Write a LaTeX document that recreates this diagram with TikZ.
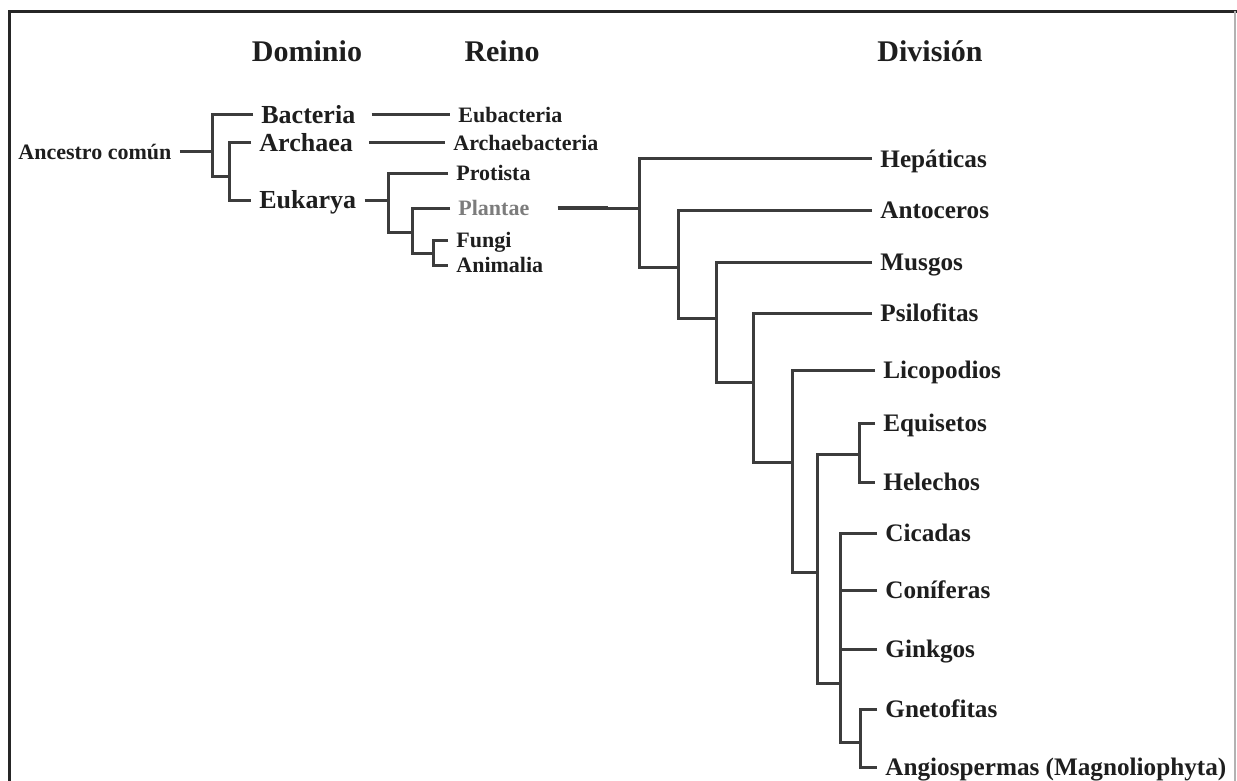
\documentclass[tikz,border=0pt]{standalone}
\usepackage{fontspec}
\setmainfont{Liberation Serif}
\definecolor{txt}{HTML}{1E1E1E}
\definecolor{lin}{HTML}{3C3C3C}
\definecolor{plg}{HTML}{7C7C7C}
\begin{document}
\begin{tikzpicture}[x=0.5pt,y=-0.5pt,
  lbl/.style={anchor=west, inner xsep=4pt, inner ysep=0pt, text depth=0pt, text=txt},
  lblS/.style={lbl, font=\fontsize{11}{13}\selectfont\bfseries, text height=7.26pt},
  lblD/.style={lbl, font=\fontsize{13}{15}\selectfont\bfseries, text height=8.6pt},
  lblV/.style={lbl, font=\fontsize{12.6}{15}\selectfont\bfseries, text height=8.3pt},
  head/.style={anchor=base, inner sep=0pt, text=txt, font=\fontsize{15}{18}\selectfont\bfseries},
  branch/.style={draw=lin, line width=1.5pt},
  frame/.style={draw=black!85, line width=1.5pt}]
\useasboundingbox (0,0) rectangle (1237,781);
\fill[white] (0,0) rectangle (1237,781);
% frame
\coordinate (fbl) at (9.5,781);
\coordinate (ftl) at (9.5,11.3);
\coordinate (ftr) at (1237,11.3);
\coordinate (frt) at (1235,11.3);
\coordinate (frb) at (1235,781);
\draw[frame] (fbl) -- (ftl) -- (ftr);
\draw[draw=black!30, line width=0.6pt] (frt) -- (frb);
% headers
\node[head] (hdom) at (307,62) {Dominio};
\node[head] (hrei) at (502,62) {Reino};
\node[head] (hdiv) at (930,62) {División};
% root and domains
\node[lblS] (anc) at (10,152) {Ancestro común};
\node[lblD] (bac) at (253,115) {Bacteria};
\node[lblD] (arc) at (251,143) {Archaea};
\node[lblD] (euk) at (251,200) {Eukarya};
\coordinate (a1) at (212,152);
\coordinate (a2) at (229,176);
\draw[branch] (anc.east) -- (a1);
\draw[branch] (bac.west) -| (a1) |- (a2);
\draw[branch] (arc.west) -| (a2) |- (euk.west);
% kingdoms
\node[lblS] (eub) at (450,115) {Eubacteria};
\node[lblS] (arb) at (445,143) {Archaebacteria};
\node[lblS] (pro) at (448,173) {Protista};
\node[lblS, text=plg] (pla) at (450,208) {Plantae};
\node[lblS] (fun) at (448,240) {Fungi};
\node[lblS] (ani) at (448,265) {Animalia};
\draw[branch] ([xshift=4pt]bac.east) -- (eub.west);
\draw[branch] ([xshift=4pt]arc.east) -- (arb.west);
\coordinate (b1) at (388,200);
\coordinate (b2) at (412,232);
\coordinate (b3) at (433,253);
\draw[branch] (euk.east) -- (b1);
\draw[branch] (pro.west) -| (b1) |- (b2);
\draw[branch] (pla.west) -| (b2) |- (b3);
\draw[branch] (fun.west) -| (b3) |- (ani.west);
% divisions
\node[lblV] (hep) at (872,159) {Hepáticas};
\node[lblV] (ant) at (872,210) {Antoceros};
\node[lblV] (mus) at (872,262) {Musgos};
\node[lblV] (psi) at (872,313) {Psilofitas};
\node[lblV] (lic) at (875,370) {Licopodios};
\node[lblV] (equ) at (875,423) {Equisetos};
\node[lblV] (hel) at (875,482) {Helechos};
\node[lblV] (cic) at (877,533) {Cicadas};
\node[lblV] (con) at (877,590) {Coníferas};
\node[lblV] (gin) at (877,649) {Ginkgos};
\node[lblV] (gne) at (877,709) {Gnetofitas};
\node[lblV] (ang) at (877,767) {Angiospermas (Magnoliophyta)};
\coordinate (c1) at (639,208);
\coordinate (c2) at (678,267);
\coordinate (c3) at (716,318);
\coordinate (c4) at (753,382);
\coordinate (c5) at (792,462);
\coordinate (c6) at (817,572);
\coordinate (c7) at (859,454);
\coordinate (c8) at (840,683);
\coordinate (c9) at (860,742);
\draw[branch] ([xshift=10pt]pla.east) -- (c1);
\draw[draw=lin, line width=1.8pt] ([xshift=10pt]pla.east) -- ([xshift=35pt]pla.east);
\draw[branch] (hep.west) -| (c1) |- (c2);
\draw[branch] (ant.west) -| (c2) |- (c3);
\draw[branch] (mus.west) -| (c3) |- (c4);
\draw[branch] (psi.west) -| (c4) |- (c5);
\draw[branch] (lic.west) -| (c5) |- (c6);
\draw[branch] (equ.west) -| (c7) |- (hel.west);
\draw[branch] (c7) -| (c6) |- (c8);
\draw[branch] (cic.west) -| (c8) |- (c9);
\draw[branch] (con.west) -- (c8 |- con.west);
\draw[branch] (gin.west) -- (c8 |- gin.west);
\draw[branch] (gne.west) -| (c9) |- (ang.west);
\end{tikzpicture}
\end{document}
